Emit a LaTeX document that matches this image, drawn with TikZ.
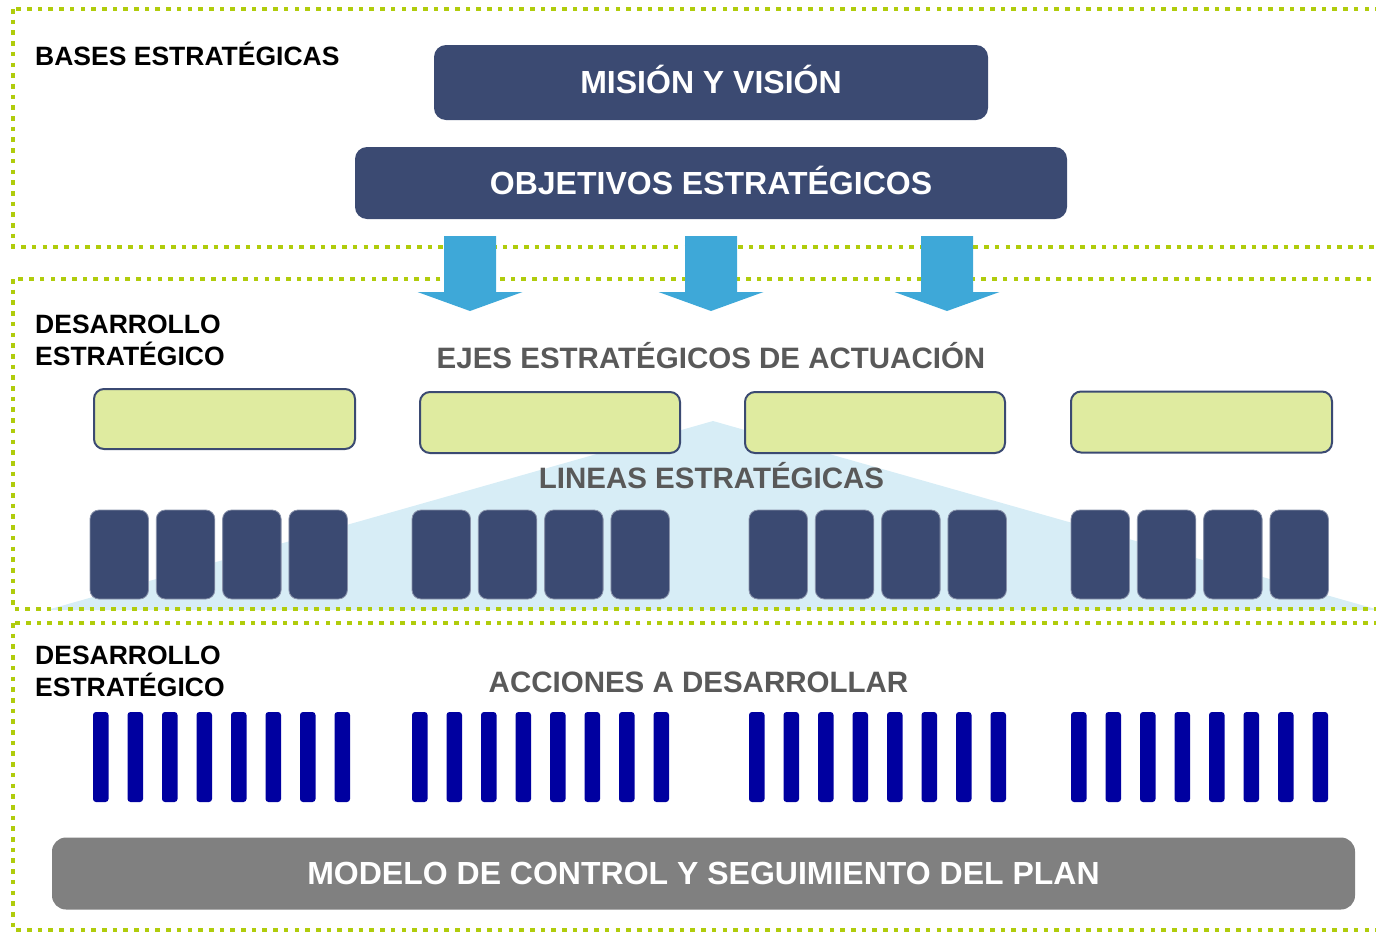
\documentclass[tikz,border=0pt]{standalone}
\usepackage{fontspec}
\setmainfont{Liberation Sans}
\definecolor{dotgreen}{RGB}{176,204,12}
\definecolor{navy}{RGB}{59,74,114}
\definecolor{arrowblue}{RGB}{62,168,216}
\definecolor{tri}{RGB}{215,237,246}
\definecolor{paleg}{RGB}{223,235,160}
\definecolor{barblue}{RGB}{0,0,160}
\definecolor{greytxt}{RGB}{89,89,89}
\definecolor{greybar}{RGB}{128,128,128}
\begin{document}
\begin{tikzpicture}[x=1pt,y=-1pt,
  dotborder/.style={draw=dotgreen,line width=4.6pt,dash pattern=on 4.6pt off 6.1pt},
  navybox/.style={fill=navy,rounded corners=12pt,text=white,font=\bfseries\fontsize{32}{37}\selectfont,text height=22.9pt,text depth=0pt,inner sep=0pt},
  greenbox/.style={fill=paleg,draw=navy,line width=2pt,rounded corners=10pt,inner sep=0pt},
  sqbox/.style={fill=navy,draw=navy!60!white,line width=0.8pt,rounded corners=9pt,inner sep=0pt},
  actbar/.style={fill=barblue,rounded corners=3pt,inner sep=0pt},
  seclabel/.style={font=\bfseries\fontsize{26.5}{32}\selectfont,text=black,inner sep=0pt,anchor=base west},
  header/.style={font=\bfseries\fontsize{29.5}{34}\selectfont,text=greytxt,inner sep=0pt,text height=21.1pt,text depth=0pt},
  downarrow/.style={fill=arrowblue},
]
\useasboundingbox (0,0) rectangle (1376,932);
\clip (0,0) rectangle (1376,932);

% light blue triangle
\fill[tri] (47,610) -- (713,421) -- (1379,610) -- cycle;

% borders
\path[dotborder] (13,9) rectangle (1400,247);
\path[dotborder] (13,279) rectangle (1400,609);
\path[dotborder] (13,623) rectangle (1400,930);

% section labels
\node[seclabel] (lb1) at (35,65) {BASES ESTRATÉGICAS};
\node[seclabel] (lb2a) at (35,333) {DESARROLLO};
\node[seclabel] (lb2b) at (35,365) {ESTRATÉGICO};
\node[seclabel] (lb3a) at (35,664) {DESARROLLO};
\node[seclabel] (lb3b) at (35,696) {ESTRATÉGICO};

% top boxes
\node[navybox,minimum width=554pt,minimum height=75pt] (mision) at (711,82.5) {MISIÓN Y VISIÓN};
\node[navybox,minimum width=712pt,minimum height=72pt] (obj) at (711,183) {OBJETIVOS ESTRATÉGICOS};

% arrows
\foreach \cx/\nm in {470/a1,711/a2,947/a3}{
  \fill[downarrow] (\cx-26,236) -- (\cx+26,236) -- (\cx+26,292) -- (\cx+52.5,292)
     -- (\cx,311) -- (\cx-52.5,292) -- (\cx-26,292) -- cycle;
}

% headers
\node[header] (ejes) at (711,357.5) {EJES ESTRATÉGICOS DE ACTUACIÓN};

% green boxes
\node[greenbox,minimum width=261pt,minimum height=60pt] (g1) at (224.5,419) {};
\node[greenbox,minimum width=260pt,minimum height=61pt] (g2) at (550,422.5) {};
\node[greenbox,minimum width=260pt,minimum height=61pt] (g3) at (875,422.5) {};
\node[greenbox,minimum width=261pt,minimum height=61pt] (g4) at (1201.5,422) {};

\node[header] (lineas) at (711.5,477.5) {LINEAS ESTRATÉGICAS};

% navy squares
\foreach \g [count=\k] in {90,412,749,1071}{
  \foreach \i in {0,1,2,3}{
    \node[sqbox,minimum width=58.5pt,minimum height=89pt] (s\k\i) at (\g+29.25+\i*66.3,554.5) {};
  }
}

\node[header] (acciones) at (698.5,681.5) {ACCIONES A DESARROLLAR};

% action bars
\foreach \g [count=\k] in {93,412,749,1071}{
  \foreach \i in {0,...,7}{
    \node[actbar,minimum width=15.5pt,minimum height=90pt] (b\k\i) at (\g+7.75+\i*34.5,757) {};
  }
}

% bottom bar
\node[fill=greybar,rounded corners=14pt,minimum width=1303pt,minimum height=72pt,inner sep=0pt,
  text=white,font=\bfseries\fontsize{32}{38}\selectfont,text height=22.9pt,text depth=0pt] (modelo) at (703.5,873.5)
  {MODELO DE CONTROL Y SEGUIMIENTO DEL PLAN};
\end{tikzpicture}
\end{document}
